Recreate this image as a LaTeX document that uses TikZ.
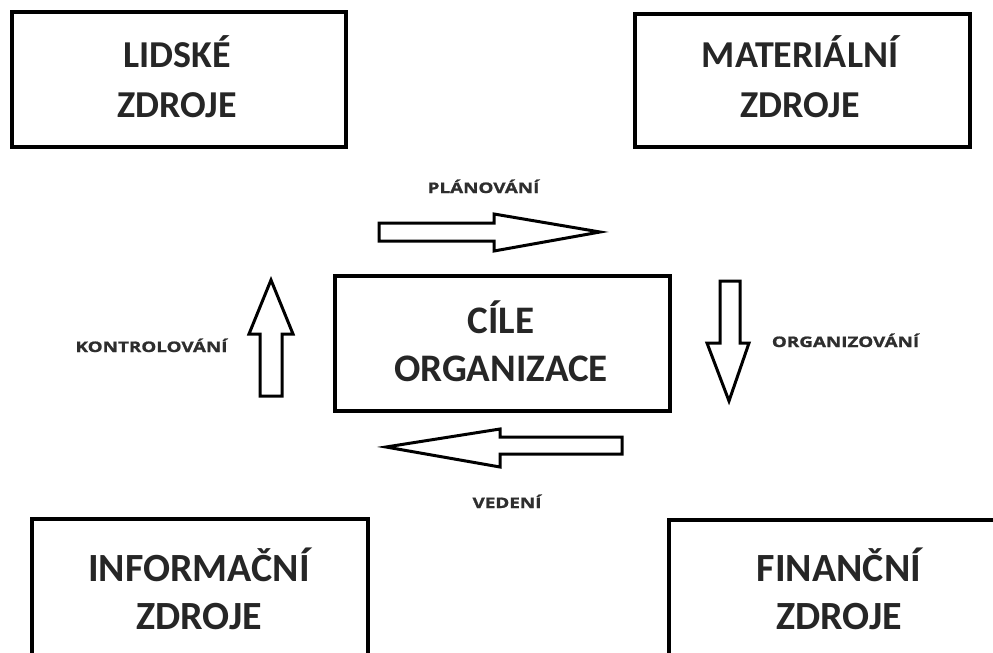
\documentclass[tikz,border=0pt]{standalone}
\usepackage{fontspec}
\setmainfont{Carlito}
\newfontfamily\lblfamily{Open Sans}[FakeStretch=1.3,FakeBold=1.2]
\definecolor{txt}{HTML}{262626}
\definecolor{lbltxt}{HTML}{2E2E2E}
\newcommand\topfont{\fontsize{38pt}{50pt}\selectfont\bfseries}
\newcommand\midfont{\fontsize{39pt}{48pt}\selectfont\bfseries}
\newcommand\botfont{\fontsize{40pt}{48pt}\selectfont\bfseries}
\begin{document}
\begin{tikzpicture}[x=1pt,y=-1pt,
  box/.style={draw, line width=4pt, inner sep=0pt},
  boxtext/.style={inner sep=0pt, text=txt, align=center},
  blockarrow/.style={draw, line width=3pt, line join=miter, fill=white},
  lbl/.style={inner sep=0pt, text=lbltxt, font=\lblfamily\bfseries\fontsize{14.5pt}{16pt}\selectfont}]
\useasboundingbox (0,0) rectangle (993,653);
\fill[white] (0,0) rectangle (993,653);
\clip (0,0) rectangle (993,653);

% boxes
\node[box, minimum width=334pt, minimum height=135pt] (lidske) at (179,79.5) {};
\node[boxtext, font=\topfont] (lidsketxt) at (177,77) {LIDSKÉ\\ZDROJE};
\node[box, minimum width=335pt, minimum height=133pt] (material) at (802.5,80.5) {};
\node[boxtext, font=\topfont] (materialtxt) at (800,77) {MATERIÁLNÍ\\ZDROJE};
\node[box, minimum width=335pt, minimum height=135pt] (cile) at (502.5,343.5) {};
\node[boxtext, font=\midfont] (ciletxt) at (501,341) {CÍLE\\ORGANIZACE};
\node[box, minimum width=336pt, minimum height=200pt] (info) at (200,619) {};
\node[boxtext, font=\botfont] (infotxt) at (199,588.5) {INFORMAČNÍ\\ZDROJE};
\node[box, minimum width=431pt, minimum height=200pt] (finance) at (884.5,620) {};
\node[boxtext, font=\botfont] (fintxt) at (839,588.5) {FINANČNÍ\\ZDROJE};

% block arrows
\draw[blockarrow] (379,223) -- (494,223) -- (494,214) -- (600,232) -- (494,251) -- (494,241) -- (379,241) -- cycle;
\draw[blockarrow] (720,281) -- (740,281) -- (740,343) -- (749,343) -- (729,401) -- (707,343) -- (720,343) -- cycle;
\draw[blockarrow] (622,437) -- (500,437) -- (500,429) -- (386,447) -- (500,467) -- (500,454) -- (622,454) -- cycle;
\draw[blockarrow] (260,396) -- (260,334) -- (249,334) -- (271,280) -- (293,334) -- (282,334) -- (282,396) -- cycle;

% labels
\node[lbl, anchor=base] (planovani) at (483.5,193) {PLÁNOVÁNÍ};
\node[lbl, anchor=base] (organizovani) at (845.5,347) {ORGANIZOVÁNÍ};
\node[lbl, anchor=base] (vedeni) at (507,508) {VEDENÍ};
\node[lbl, anchor=base] (kontrolovani) at (151.5,352) {KONTROLOVÁNÍ};
\end{tikzpicture}
\end{document}
